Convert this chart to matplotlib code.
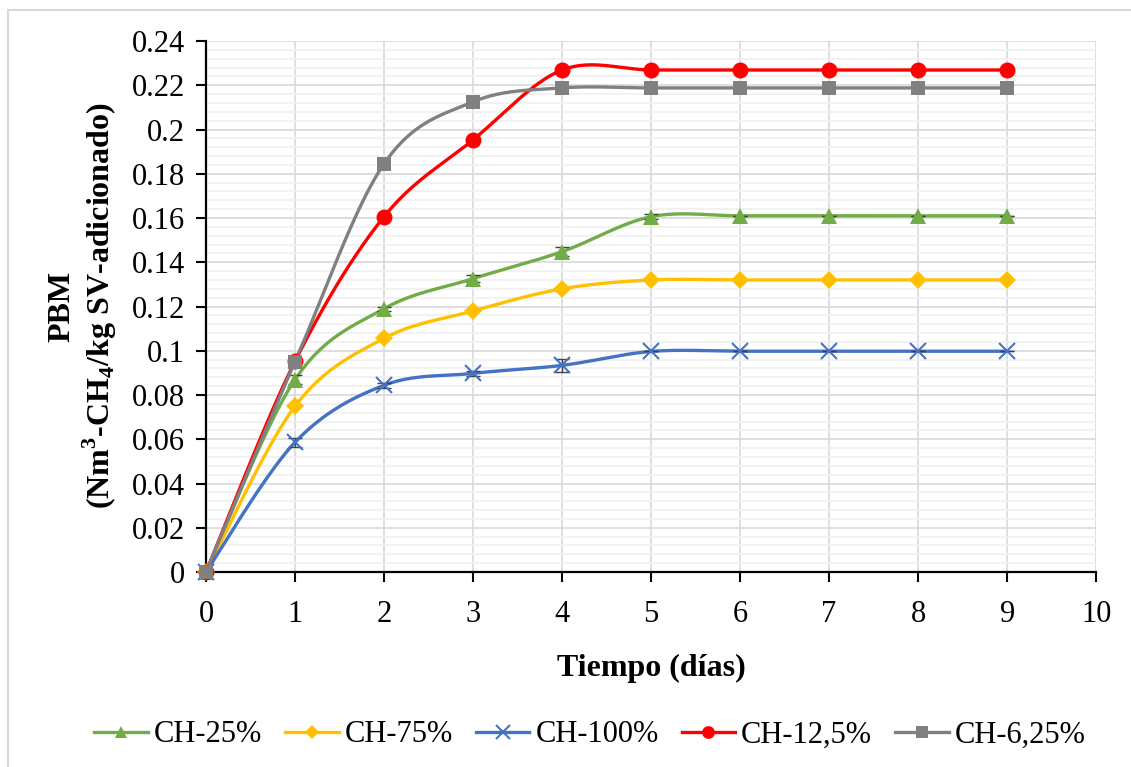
import numpy as np
import matplotlib.pyplot as plt
from matplotlib.lines import Line2D
from matplotlib.ticker import MultipleLocator, FuncFormatter

plt.rcParams['font.family'] = 'Liberation Serif'
plt.rcParams['mathtext.fontset'] = 'custom'
plt.rcParams['mathtext.rm'] = 'Liberation Serif'
plt.rcParams['mathtext.bf'] = 'Liberation Serif:bold'

# datos
dias = [0, 1, 2, 3, 4, 5, 6, 7, 8, 9]
ch_25 = [0, 0.087, 0.119, 0.1326, 0.1448, 0.1606, 0.161, 0.161, 0.161, 0.161]
ch_75 = [0, 0.0749, 0.1056, 0.118, 0.128, 0.132, 0.132, 0.132, 0.132, 0.132]
ch_100 = [0, 0.0586, 0.0844, 0.0898, 0.0934, 0.0997, 0.0998, 0.0998, 0.0998, 0.0998]
ch_125 = [0, 0.0952, 0.1606, 0.1953, 0.2269, 0.2269, 0.2269, 0.2269, 0.2269, 0.2269]
ch_625 = [0, 0.095, 0.1845, 0.2125, 0.2188, 0.2188, 0.2188, 0.2188, 0.2188, 0.2188]

err_25 = [0, 0.002, 0.001, 0.0015, 0.002, 0.001, 0, 0, 0, 0]
err_100 = [0, 0.002, 0.001, 0.001, 0.003, 0, 0, 0, 0, 0]

etiquetas = ['CH-25%', 'CH-75%', 'CH-100%', 'CH-12,5%', 'CH-6,25%']


def suavizar(x, y, n=40):
    # curva suavizada tipo Excel (Bezier / Catmull-Rom)
    x = np.asarray(x, float)
    y = np.asarray(y, float)
    xs, ys = [], []
    for i in range(len(x) - 1):
        i0 = max(i - 1, 0)
        i3 = min(i + 2, len(x) - 1)
        p0 = np.array([x[i], y[i]])
        p3 = np.array([x[i + 1], y[i + 1]])
        p1 = p0 + (p3 - np.array([x[i0], y[i0]])) / 6.0
        p2 = p3 - (np.array([x[i3], y[i3]]) - p0) / 6.0
        t = np.linspace(0, 1, n)[:, None]
        b = (1 - t)**3 * p0 + 3 * (1 - t)**2 * t * p1 + 3 * (1 - t) * t**2 * p2 + t**3 * p3
        xs.extend(b[:, 0])
        ys.extend(b[:, 1])
    return xs, ys


fig = plt.figure(figsize=(11.31, 7.67), dpi=100)
ax = fig.add_axes([0.1821, 0.2542, 0.7871, 0.6923])

series = [
    (ch_25, '#70AD47', '^', 11, err_25),
    (ch_75, '#FFC000', 'D', 9.5, None),
    (ch_100, '#4472C4', 'x', 12, err_100),
    (ch_125, '#FF0000', 'o', 11.5, None),
    (ch_625, '#808080', 's', 10.5, None),
]

handles = []
for (vals, col, mk, ms, err), lab in zip(series, etiquetas):
    sx, sy = suavizar(dias, vals)
    ax.plot(sx, sy, color=col, lw=2.4, zorder=3)
    if err is not None:
        ax.errorbar(dias, vals, yerr=err, fmt='none', ecolor='#404040',
                    elinewidth=1, capsize=5, capthick=1, zorder=3)
    mew = 1.5 if mk == 'x' else 0
    ax.plot(dias, vals, linestyle='none', marker=mk, ms=ms, color=col,
            mec=col, mew=mew, zorder=6, clip_on=False)
    handles.append(Line2D([], [], color=col, lw=2.4, marker=mk, ms=ms * 0.8,
                          mec=col, mew=mew))

ax.set_xlim(0, 10)
ax.set_ylim(0, 0.24)
ax.xaxis.set_major_locator(MultipleLocator(1))
ax.yaxis.set_major_locator(MultipleLocator(0.02))
ax.yaxis.set_minor_locator(MultipleLocator(0.004))
ax.yaxis.set_major_formatter(FuncFormatter(lambda v, p: '%g' % round(v, 3)))

ax.grid(which='major', color='#d9d9d9', lw=1.2, zorder=0)
ax.grid(which='minor', axis='y', color='#f0f0f0', lw=1.2, zorder=0)
ax.set_axisbelow(True)

for s in ['top', 'right']:
    ax.spines[s].set_visible(False)
for s in ['left', 'bottom']:
    ax.spines[s].set_linewidth(1.6)
    ax.spines[s].set_zorder(5)
ax.tick_params(which='major', direction='out', length=7, width=1.5,
               labelsize=22, pad=8)
ax.tick_params(axis='x', pad=13)
ax.tick_params(which='minor', length=0)

ax.set_xlabel('Tiempo (días)', fontsize=23, fontweight='bold', labelpad=18)

fig.text(62 / 1131, 1 - 306 / 767, 'PBM', rotation=90, fontsize=23,
         fontweight='bold', ha='center', va='center')
fig.text(100 / 1131, 1 - 306 / 767,
         r'(Nm$^\mathbf{3}$-CH$_\mathbf{4}$/kg SV-adicionado)', rotation=90,
         fontsize=23, fontweight='bold', ha='center', va='center')

fig.legend(handles, etiquetas, loc='center', bbox_to_anchor=(590 / 1131, 1 - 735 / 767),
           ncol=5, frameon=False, fontsize=22, numpoints=1, handlelength=1.75,
           handletextpad=0.2, columnspacing=0.75, borderaxespad=0)

# borde del área del gráfico
fig.add_artist(Line2D([8 / 1131, 8 / 1131], [0, 1 - 10 / 767], color='#d9d9d9', lw=1.5))
fig.add_artist(Line2D([8 / 1131, 1], [1 - 10 / 767, 1 - 10 / 767], color='#d9d9d9', lw=1.5))

fig.savefig('out.png', dpi=100)
